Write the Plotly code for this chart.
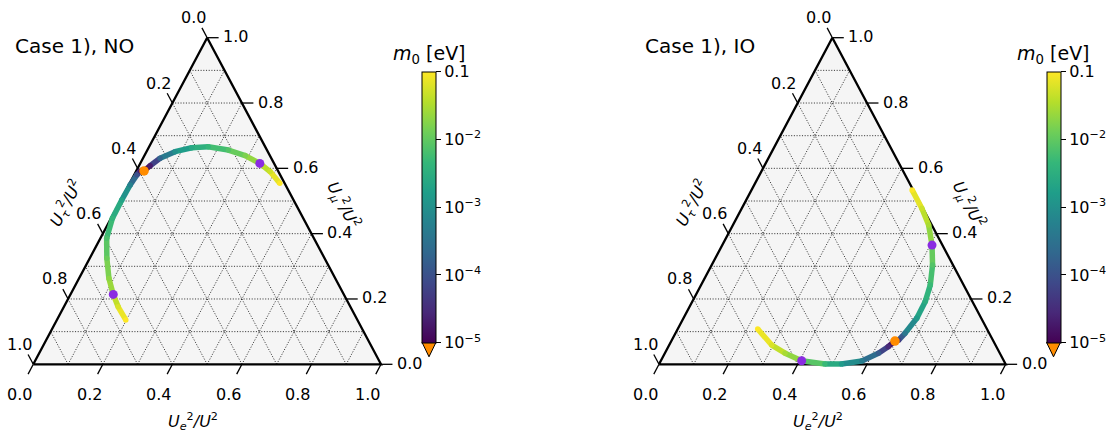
import numpy as np
import plotly.graph_objects as go

# ------------------------------------------------------------------
# Data
# ternary fractions U_e^2/U^2 and U_mu^2/U^2 (U_tau^2/U^2 = rest), m0 in eV
# ------------------------------------------------------------------
no_ue = [0.198, 0.156, 0.123, 0.086, 0.049, 0.018, 0.004, 0.003, 0.004, 0.008, 0.012,
         0.0225, 0.032, 0.049, 0.082, 0.124, 0.170, 0.233, 0.290, 0.344, 0.386, 0.432]
no_umu = [0.136, 0.176, 0.214, 0.263, 0.325, 0.386, 0.447, 0.503, 0.549, 0.580, 0.592,
          0.592, 0.608, 0.631, 0.651, 0.663, 0.666, 0.656, 0.639, 0.615, 0.590, 0.554]
no_m0 = [0.1, 0.06, 0.03, 0.02, 0.012, 0.007, 0.004, 0.002, 6e-4, 1e-4, 2e-5,
         0.0, 2e-5, 2e-4, 1e-3, 2.5e-3, 4.5e-3, 8e-3, 0.016, 0.03, 0.05, 0.1]
no_m0_limit = 0.03

io_ue = [0.463, 0.519, 0.5645, 0.605, 0.637, 0.661, 0.672, 0.673, 0.662, 0.654,
         0.645, 0.634, 0.616, 0.580, 0.526, 0.478, 0.406, 0.3466, 0.2955, 0.2307]
io_umu = [0.534, 0.478, 0.4265, 0.365, 0.304, 0.243, 0.192, 0.141, 0.095, 0.074,
          0.071, 0.054, 0.034, 0.010, 0.001, 0.001, 0.011, 0.034, 0.059, 0.108]
io_m0 = [0.1, 0.05, 0.03, 0.015, 0.008, 0.005, 0.003, 0.0015, 4e-4, 5e-5,
         0.0, 3e-5, 1.5e-4, 5e-4, 1.5e-3, 5e-3, 0.015, 0.03, 0.06, 0.1]
io_m0_limit = 0.015

titles = ["Case 1), NO", "Case 1), IO"]
grid_values = [0.1, 0.2, 0.3, 0.4, 0.5, 0.6, 0.7, 0.8, 0.9]
tick_values = [0.0, 0.2, 0.4, 0.6, 0.8, 1.0]
tick_labels = ["0.0", "0.2", "0.4", "0.6", "0.8", "1.0"]
cbar_tickvals = [1e-5, 1e-4, 1e-3, 1e-2, 1e-1]
cbar_ticktext = ["10<sup>−5</sup>", "10<sup>−4</sup>", "10<sup>−3</sup>",
                 "10<sup>−2</sup>", "0.1"]
m0_min, m0_max = 1e-5, 1e-1

# ------------------------------------------------------------------
# Layout geometry (pixels) and styles
# ------------------------------------------------------------------
FW, FH = 1117, 432
FONT = "DejaVu Sans"
Y0, H = 364.3, 326.6          # bottom edge pixel row, triangle height
panels = [
    dict(x0=33.3, w=347.7, dom=[0.0, 0.5], cbx=422.0, title_x=12.7),
    dict(x0=659.0, w=346.7, dom=[0.5, 1.0], cbx=1046.5, title_x=642.7),
]
CB_TOP, CB_BOT, CB_W = 71.7, 342.3, 14.0
VIRIDIS = ["#440154", "#482878", "#3e4989", "#31688e", "#26828e",
           "#1f9e89", "#35b779", "#6ece58", "#b5de2b", "#fde725"]
TICK_FS, TITLE_FS = 16, 20


def cart(ue, umu):
    ue = np.asarray(ue, dtype=float)
    umu = np.asarray(umu, dtype=float)
    return ue + umu / 2.0, umu


def logm(m):
    return np.log10(np.maximum(np.asarray(m, dtype=float), m0_min))


def viridis(t):
    t = float(np.clip(t, 0, 1)) * (len(VIRIDIS) - 1)
    i = min(int(t), len(VIRIDIS) - 2)
    f = t - i
    c1 = [int(VIRIDIS[i][j:j + 2], 16) for j in (1, 3, 5)]
    c2 = [int(VIRIDIS[i + 1][j:j + 2], 16) for j in (1, 3, 5)]
    c = [round(a + (b - a) * f) for a, b in zip(c1, c2)]
    return f"rgb({c[0]},{c[1]},{c[2]})"


lo, hi = np.log10(m0_min), np.log10(m0_max)
fig = go.Figure()
layout_axes = {}
annotations = []
shapes = []

datasets = [(no_ue, no_umu, no_m0, no_m0_limit), (io_ue, io_umu, io_m0, io_m0_limit)]

for k, (p, (ue, umu, m0, lim)) in enumerate(zip(panels, datasets)):
    sfx = "" if k == 0 else "2"
    xa, ya = "x" + sfx, "y" + sfx
    cax = "coloraxis" + sfx
    x0, w = p["x0"], p["w"]
    d0, d1 = p["dom"]
    layout_axes["xaxis" + sfx] = dict(
        domain=[d0, d1], range=[(d0 * FW - x0) / w, (d1 * FW - x0) / w],
        visible=False, fixedrange=True)
    layout_axes["yaxis" + sfx] = dict(
        domain=[0, 1], range=[(Y0 - FH) / H, Y0 / H], visible=False, fixedrange=True)

    # triangle fill
    cx, cy = cart([0, 1, 0], [0, 0, 1])
    shapes.append(dict(type="path", xref=xa, yref=ya, layer="below",
                       path=f"M {cx[0]},{cy[0]} L {cx[1]},{cy[1]} L {cx[2]},{cy[2]} Z",
                       fillcolor="#f5f5f5", line=dict(width=0)))

    # grid lines
    gx, gy = [], []
    for v in grid_values:
        for a, b in (((0, v), (1 - v, v)), ((v, 0), (v, 1 - v)), ((1 - v, 0), (0, 1 - v))):
            ax_, ay_ = cart(*a)
            bx_, by_ = cart(*b)
            gx += [float(ax_), float(bx_), None]
            gy += [float(ay_), float(by_), None]
    fig.add_trace(go.Scatter(x=gx, y=gy, mode="lines", xaxis=xa, yaxis=ya,
                             line=dict(color="rgba(0,0,0,0.85)", width=0.9,
                                       dash="1.1px,1.6px"),
                             hoverinfo="skip", showlegend=False))

    # border
    bx, by = cart([0, 1, 0, 0], [0, 0, 1, 0])
    fig.add_trace(go.Scatter(x=bx, y=by, mode="lines", xaxis=xa, yaxis=ya,
                             line=dict(color="black", width=2.3), hoverinfo="skip",
                             showlegend=False))

    # ticks
    d = 0.03
    tx, ty = [], []
    for v in tick_values:
        sx, sy = cart(v, 0)              # bottom (U_e)
        tx += [float(sx), float(sx) - d / 2, None]
        ty += [float(sy), float(sy) - d, None]
        sx, sy = cart(1 - v, v)          # right (U_mu)
        tx += [float(sx), float(sx) + 0.033, None]
        ty += [float(sy), float(sy), None]
        sx, sy = cart(0, 1 - v)          # left (U_tau)
        tx += [float(sx), float(sx) - d / 2, None]
        ty += [float(sy), float(sy) + d, None]
    fig.add_trace(go.Scatter(x=tx, y=ty, mode="lines", xaxis=xa, yaxis=ya,
                             line=dict(color="black", width=1.3), hoverinfo="skip",
                             showlegend=False))

    for v, lab in zip(tick_values, tick_labels):
        sx, sy = cart(v, 0)
        annotations.append(dict(x=float(sx), y=float(sy), xref=xa, yref=ya, text=lab,
                                showarrow=False, xshift=-13.5, yshift=-30,
                                xanchor="center", yanchor="middle",
                                font=dict(size=TICK_FS, color="black")))
        sx, sy = cart(1 - v, v)
        annotations.append(dict(x=float(sx), y=float(sy), xref=xa, yref=ya, text=lab,
                                showarrow=False, xshift=14, yshift=1,
                                xanchor="left", yanchor="middle",
                                font=dict(size=TICK_FS, color="black")))
        sx, sy = cart(0, 1 - v)
        annotations.append(dict(x=float(sx), y=float(sy), xref=xa, yref=ya, text=lab,
                                showarrow=False, xshift=-14, yshift=20,
                                xanchor="center", yanchor="middle",
                                font=dict(size=TICK_FS, color="black")))

    # curve: coloured segments
    px_, py_ = cart(ue, umu)
    lm = logm(m0)
    for i in range(len(ue) - 1):
        t = ((lm[i] + lm[i + 1]) / 2 - lo) / (hi - lo)
        fig.add_trace(go.Scatter(x=[px_[i], px_[i + 1]], y=[py_[i], py_[i + 1]],
                                 mode="lines", xaxis=xa, yaxis=ya,
                                 line=dict(color=viridis(t), width=5.5),
                                 hoverinfo="skip", showlegend=False))
    fig.add_trace(go.Scatter(x=px_, y=py_, mode="markers", xaxis=xa, yaxis=ya,
                             marker=dict(size=5.5, color=lm, coloraxis=cax,
                                         line=dict(width=0)),
                             hoverinfo="skip", showlegend=False))

    # special points: m0 at the cosmological limit (purple) and m0 = 0 (orange)
    m0a = np.asarray(m0)
    sel = np.isclose(m0a, lim)
    fig.add_trace(go.Scatter(x=px_[sel], y=py_[sel], mode="markers", xaxis=xa, yaxis=ya,
                             marker=dict(size=9, color="blueviolet", line=dict(width=0)),
                             hoverinfo="skip", showlegend=False))
    sel0 = m0a == 0
    fig.add_trace(go.Scatter(x=px_[sel0], y=py_[sel0], mode="markers", xaxis=xa, yaxis=ya,
                             marker=dict(size=9.5, color="darkorange", line=dict(width=0)),
                             hoverinfo="skip", showlegend=False))

    # colorbar (via coloraxis)
    cbx = p["cbx"]
    layout_axes[cax] = dict(
        colorscale="Viridis", cmin=lo, cmax=hi,
        colorbar=dict(x=cbx / FW, xanchor="left", xpad=0, ypad=0,
                      y=1 - CB_TOP / FH, yanchor="top",
                      len=CB_BOT - CB_TOP, lenmode="pixels",
                      thickness=CB_W, thicknessmode="pixels",
                      outlinewidth=1, outlinecolor="black",
                      ticks="outside", ticklen=5, tickwidth=1, tickcolor="black",
                      tickvals=list(np.log10(cbar_tickvals)), ticktext=cbar_ticktext,
                      tickfont=dict(size=TICK_FS, color="black", family=FONT)))
    # purple band at limit
    yb = CB_BOT - (np.log10(lim) - lo) / (hi - lo) * (CB_BOT - CB_TOP)
    shapes.append(dict(type="rect", xref="paper", yref="paper",
                       x0=(cbx + 0.5) / FW, x1=(cbx + CB_W - 0.5) / FW,
                       y0=1 - (yb + 1.6) / FH, y1=1 - (yb - 1.6) / FH,
                       fillcolor="blueviolet", line=dict(width=0)))
    # under-range extension triangle
    ex0, ex1, exm = cbx / FW, (cbx + CB_W) / FW, (cbx + CB_W / 2) / FW
    ey0, ey1 = 1 - CB_BOT / FH, 1 - (CB_BOT + 14.5) / FH
    shapes.append(dict(type="path", xref="paper", yref="paper",
                       path=f"M {ex0},{ey0} L {ex1},{ey0} L {exm},{ey1} Z",
                       fillcolor="darkorange", line=dict(color="black", width=1)))
    annotations.append(dict(x=(cbx + CB_W / 2) / FW, y=1 - 54 / FH, xref="paper",
                            yref="paper", text="<i>m</i><sub>0</sub> [eV]",
                            showarrow=False, xanchor="center", yanchor="middle",
                            font=dict(size=19, color="black")))

    # panel title
    annotations.append(dict(x=p["title_x"] / FW, y=1 - 45.5 / FH, xref="paper",
                            yref="paper", text=titles[k], showarrow=False,
                            xanchor="left", yanchor="middle",
                            font=dict(size=TITLE_FS, color="black")))
    # axis titles
    annotations.append(dict(x=(x0 + w / 2 - 14) / FW, y=1 - 421 / FH, xref="paper",
                            yref="paper",
                            text="<i>U</i><sub><i>e</i></sub><sup>2</sup><i>/U</i><sup>2</sup>",
                            showarrow=False, xanchor="center", yanchor="middle",
                            font=dict(size=TICK_FS, color="black")))
    annotations.append(dict(x=(x0 + 32.7) / FW, y=1 - 203 / FH, xref="paper",
                            yref="paper", textangle=-62,
                            text="<i>U</i><sub><i>τ</i></sub><sup>2</sup><i>/U</i><sup>2</sup>",
                            showarrow=False, xanchor="center", yanchor="middle",
                            font=dict(size=TICK_FS, color="black")))
    annotations.append(dict(x=(x0 + 309.2) / FW, y=1 - 205 / FH, xref="paper",
                            yref="paper", textangle=62,
                            text="<i>U</i><sub><i>μ</i></sub><sup>2</sup><i>/U</i><sup>2</sup>",
                            showarrow=False, xanchor="center", yanchor="middle",
                            font=dict(size=TICK_FS, color="black")))

fig.update_layout(
    width=FW, height=FH, margin=dict(l=0, r=0, t=0, b=0),
    paper_bgcolor="white", plot_bgcolor="rgba(0,0,0,0)",
    font=dict(family=FONT, color="black"),
    showlegend=False, annotations=annotations, shapes=shapes,
    **layout_axes)

fig.write_html("out.html")
